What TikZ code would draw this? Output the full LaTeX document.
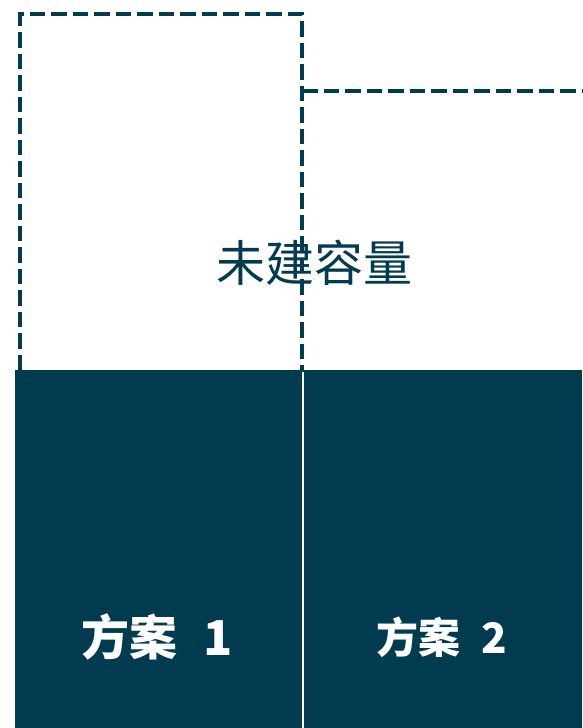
\documentclass[tikz,border=0pt]{standalone}
\usepackage{fontspec}
\newfontfamily\cjk{Noto Sans CJK SC}
\definecolor{deep}{RGB}{0,59,79}
\begin{document}
\begin{tikzpicture}[x=1pt,y=-1pt,
  dashline/.style={draw=deep,line width=4.7pt,dash pattern=on 15.5pt off 6pt},
  block/.style={fill=deep,draw=none},
  lab/.style={text=white,font=\cjk\bfseries}]
\useasboundingbox (0,0) rectangle (582,728);
\fill[white] (0,0) rectangle (582,728);
\draw[dashline] (20,370) -- (20,14) -- (302,14) -- (302,372);
\draw[dashline] (302,91) -- (590,91);
\fill[block] (15,370) rectangle (302.3,728);
\fill[block] (304.2,370) rectangle (582,728);
\node[text=deep,font=\cjk\fontsize{49}{55}\selectfont] (unb) at (314,263) {未建容量};
\node[lab,font=\cjk\bfseries\fontsize{48}{54}\selectfont] (p1) at (157,637) {方案\hspace{0.55em}1};
\node[lab,font=\cjk\bfseries\fontsize{42}{48}\selectfont] (p2) at (442,637) {方案\hspace{0.5em}2};
\end{tikzpicture}
\end{document}
